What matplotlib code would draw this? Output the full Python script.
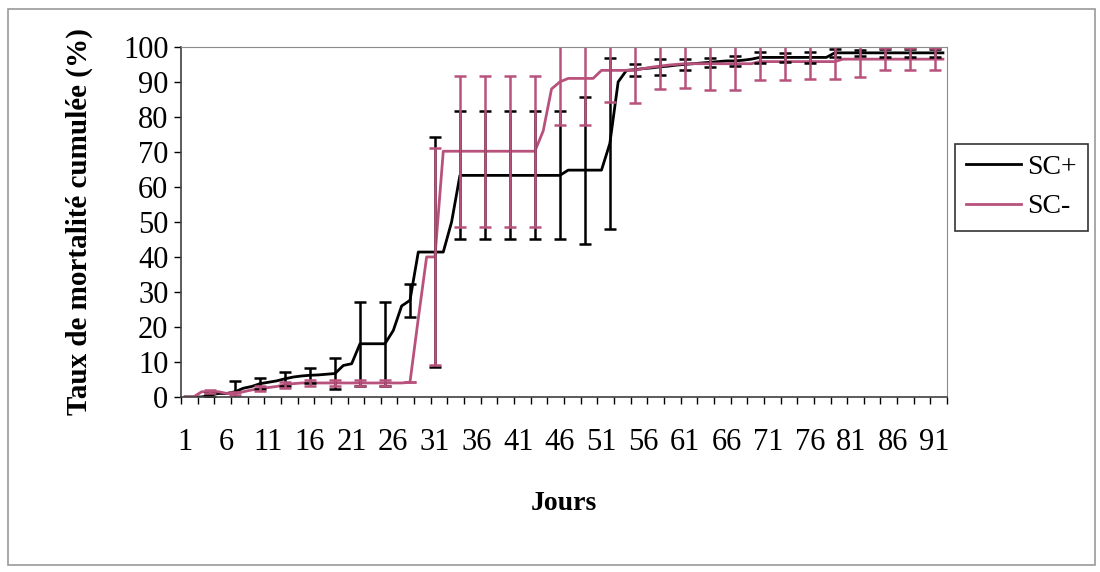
import numpy as np
import matplotlib.pyplot as plt
from matplotlib.patches import Rectangle

plt.rcParams['font.family'] = ['Liberation Serif', 'DejaVu Serif']

# days 1..92
days = list(range(1, 93))

# cumulative mortality (%) per day
sc_plus = [0, 0, 0, 0.5, 1, 1, 1.5, 2.5, 3, 3.8,
           4.2, 4.6, 5.2, 5.7, 6, 6.2, 6.3, 6.5, 6.7, 9,
           9.5, 15.2, 15.2, 15.2, 15.2, 19, 26, 27.6, 41.4, 41.4,
           41.4, 41.4, 50, 63.3, 63.3, 63.3, 63.3, 63.3, 63.3, 63.3,
           63.3, 63.3, 63.3, 63.3, 63.3, 63.3, 64.8, 64.8, 64.8, 64.8,
           64.8, 72.4, 90, 93.3, 93.5, 93.8, 94, 94.3, 94.5, 94.8,
           95, 95.2, 95.4, 95.6, 95.8, 96, 96, 96.2, 96.5, 97,
           97, 97, 97, 97, 97, 97, 97, 97, 98.3, 98.3,
           98.3, 98.3, 98.3, 98.3, 98.3, 98.3, 98.3, 98.3, 98.3, 98.3,
           98.3, 98.3]

sc_minus = [0, 0, 1.5, 1.5, 1.5, 1, 1, 1.5, 2, 2.4,
            2.7, 3, 3.5, 3.8, 4, 4, 4, 4, 4, 4,
            4, 4, 4, 4, 4, 4, 4, 4.2, 22.4, 40,
            40, 70.2, 70.2, 70.2, 70.2, 70.2, 70.2, 70.2, 70.2, 70.2,
            70.2, 70.2, 70.2, 76, 88, 90, 91, 91, 91, 91,
            93.3, 93.3, 93.3, 93.3, 93.3, 93.8, 94.2, 94.5, 94.8, 95,
            95.2, 95.2, 95.2, 95.2, 95.2, 95.2, 95.2, 95.2, 95.2, 95.8,
            95.8, 95.8, 95.8, 95.8, 95.8, 95.8, 95.8, 95.8, 95.8, 96.5,
            96.5, 96.5, 96.5, 96.5, 96.5, 96.5, 96.5, 96.5, 96.5, 96.5,
            96.5, 96.5]

# error bars every 3 days
err_days = list(range(4, 92, 3))
err_plus = [0.5, 3, 1.5, 2, 2.2, 4.5, 12, 12, 4.7, 32.8,
            18.3, 18.3, 18.3, 18.3, 18.3, 21, 24.4, 1.7, 2.3, 1.5,
            1.2, 1.5, 1.5, 1.2, 1.5, 1.2, 0.8, 1.2, 1.2, 1.2]
err_minus = [0.5, 0.5, 0.8, 0.8, 0.8, 0.8, 0.8, 0.8, 0, 31,
             21.6, 21.6, 21.6, 21.6, 12.4, 13.4, 9, 9.2, 6.5, 7,
             7.5, 7.5, 5.3, 5.3, 5, 5, 5, 3.2, 3.2, 3.2]

tick_labels = [str(d) for d in range(1, 92, 5)]

black = '#000000'
pink = '#b8527d'

fig = plt.figure(figsize=(11, 5.72), dpi=100)
ax = fig.add_axes([0.1645, 0.306, 0.6965, 0.612])

# outer chart border
fig.patches.append(Rectangle((0.007, 0.012), 0.988, 0.972, transform=fig.transFigure,
                             fill=False, edgecolor='#9a9a9a', linewidth=1.2))

ax.plot(days, sc_plus, color=black, linewidth=2, label='SC+')
ax.plot(days, sc_minus, color=pink, linewidth=2, label='SC-')

plus_at = [sc_plus[d - 1] for d in err_days]
minus_at = [sc_minus[d - 1] for d in err_days]
ax.errorbar(err_days, plus_at, yerr=err_plus, fmt='none', ecolor=black,
            elinewidth=1.8, capsize=4, capthick=1.8)
ax.errorbar(err_days, minus_at, yerr=err_minus, fmt='none', ecolor=pink,
            elinewidth=1.8, capsize=4, capthick=1.8)

ax.set_xlim(0.5, 92.5)
ax.set_ylim(0, 100)
ax.set_yticks(range(0, 101, 10))
ax.tick_params(axis='y', direction='out', length=5, width=1, labelsize=22, pad=4)

ax.set_xticks(range(1, 92, 5))
ax.set_xticklabels(tick_labels)
ax.set_xticks(np.arange(0.5, 93, 2), minor=True)
ax.tick_params(axis='x', which='major', length=0, labelsize=22, pad=22)
ax.tick_params(axis='x', which='minor', direction='out', length=5, width=1)

for side in ['top', 'right']:
    ax.spines[side].set_color('#8c8c8c')
for side in ['left', 'bottom']:
    ax.spines[side].set_color('#404040')
    ax.spines[side].set_linewidth(1.2)

ax.set_xlabel('Jours', fontsize=20, fontweight='bold')
ax.xaxis.set_label_coords(0.5, -0.27)
ax.set_ylabel('Taux de mortalité cumulée (%)', fontsize=21, fontweight='bold')
ax.yaxis.set_label_coords(-0.115, 0.5)

leg = fig.legend(loc='center left', bbox_to_anchor=(0.868, 0.673), fontsize=20,
                 frameon=True, fancybox=False, edgecolor='black', handlelength=2.0,
                 handletextpad=0.2, borderpad=0.4, labelspacing=0.5, borderaxespad=0)
leg.get_frame().set_linewidth(1.2)

plt.savefig('out.png', dpi=100)
